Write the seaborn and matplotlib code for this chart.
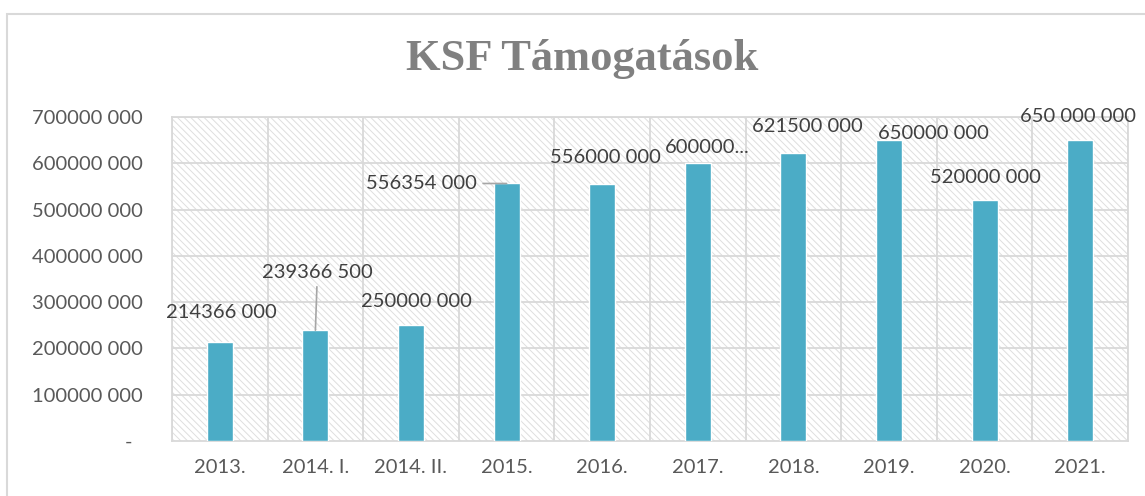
import matplotlib
matplotlib.use("Agg")
import matplotlib.pyplot as plt
import seaborn as sns
from matplotlib.patches import Rectangle
from matplotlib.ticker import FuncFormatter, MultipleLocator

# ---------- data ----------
categories = ["2013.", "2014. I.", "2014. II.", "2015.", "2016.",
              "2017.", "2018.", "2019.", "2020.", "2021."]
values = [214366000, 239366500, 250000000, 556354000, 556000000,
          600000000, 621500000, 650000000, 520000000, 650000000]
value_labels = ["214366 000", "239366 500", "250000 000", "556354 000", "556000 000",
                "600000...", "621500 000", "650000 000", "520000 000", "650 000 000"]

# label offsets from the bar top (pixels), as the labels were dragged in the original
label_offsets = [(2, 29), (2, 58), (5, 24), (-85, 0), (3, 26),
                 (9, 16), (14, 27), (44, 7), (1, 23), (-2, 24)]
leader_lines = [False, True, False, True, False, False, False, False, False, False]

bar_color = "#4BACC6"
grid_color = "#d9d9d9"
text_color = "#595959"

sns.set_theme(style="white")
plt.rcParams["font.family"] = ["Lato", "DejaVu Sans"]
plt.rcParams["hatch.color"] = "#dedede"
plt.rcParams["hatch.linewidth"] = 0.7

fig = plt.figure(figsize=(11.45, 4.96), dpi=100)
ax = fig.add_axes([172 / 1145, 1 - 441 / 496, (1128 - 172) / 1145, (441 - 117) / 496])

# hatched plot area
ax.patch.set_facecolor("white")
ax.patch.set_hatch("\\\\\\\\\\")
ax.patch.set_edgecolor("#dedede")

sns.barplot(x=categories, y=values, color=bar_color, saturation=1, width=0.27,
            ax=ax, zorder=3)

ax.set_ylim(0, 700000000)
ax.set_xlim(-0.5, len(categories) - 0.5)
ax.yaxis.set_major_locator(MultipleLocator(100000000))


def fmt(v, pos):
    v = int(round(v))
    if v == 0:
        return "-  "
    return f"{v // 1000}{' '}{v % 1000:03d}"


ax.yaxis.set_major_formatter(FuncFormatter(fmt))

# gridlines: horizontal at ticks, vertical between categories
for y in range(100000000, 700000001, 100000000):
    ax.axhline(y, color=grid_color, lw=1.3, zorder=1)
for x in range(len(categories) + 1):
    ax.axvline(x - 0.5, color=grid_color, lw=1.3, zorder=1)
for s in ax.spines.values():
    s.set_color(grid_color)
    s.set_linewidth(1.3)

ax.tick_params(axis="y", length=0, pad=21, labelsize=14.5, labelcolor=text_color)
ax.tick_params(axis="x", length=0, pad=13, labelsize=14.5, labelcolor=text_color)
ax.set_xlabel("")
ax.set_ylabel("")

# data labels
for i, (v, lab) in enumerate(zip(values, value_labels)):
    dx, dy = label_offsets[i]
    props = None
    if leader_lines[i]:
        props = dict(arrowstyle="-", color="#a6a6a6", lw=1.2, shrinkA=2, shrinkB=0)
    ax.annotate(lab, xy=(i, v), xytext=(dx, dy), textcoords="offset pixels",
                ha="center", va="center", fontsize=14.5, color="#404040",
                arrowprops=props, zorder=4, annotation_clip=False)

# title
fig.text(582 / 1145, 1 - 59 / 496, "KSF Támogatások", ha="center", va="center",
         fontsize=32, fontweight="bold", color="#808080",
         family=["Liberation Serif", "DejaVu Serif"])

# chart frame
fig.patches.append(Rectangle((6.5 / 1145, -0.1), 1.2, 1.1 - 14 / 496,
                             transform=fig.transFigure, fill=False,
                             edgecolor=grid_color, lw=1.5))

fig.savefig("out.png", dpi=100)
